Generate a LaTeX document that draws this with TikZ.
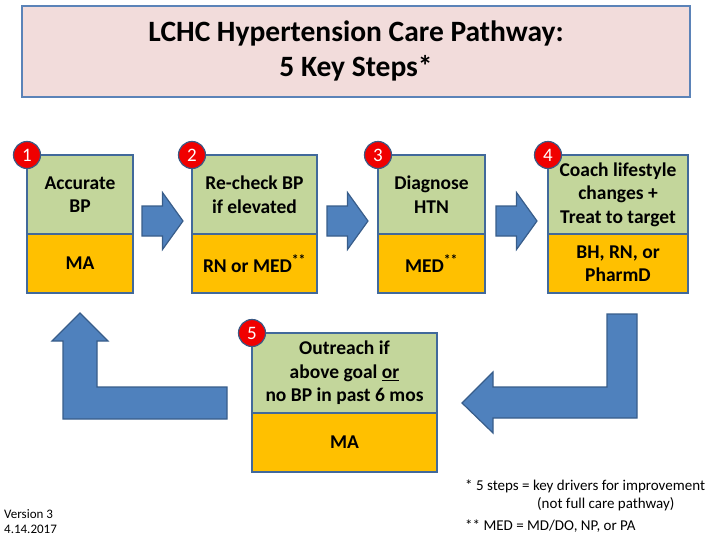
\documentclass[tikz,border=0pt]{standalone}
\usepackage{fontspec}
\setmainfont{Carlito}
\usetikzlibrary{positioning,calc}
\definecolor{titlepink}{HTML}{F2DCDB}
\definecolor{titleline}{HTML}{5B83B8}
\definecolor{boxline}{HTML}{41699B}
\definecolor{stepgreen}{HTML}{C3D69B}
\definecolor{steporange}{HTML}{FFC000}
\definecolor{arrowblue}{HTML}{4F81BD}
\definecolor{arrowline}{HTML}{385D8A}
\definecolor{badgered}{HTML}{F00000}
\definecolor{badgeline}{HTML}{3B5A85}
\tikzset{
rarrow/.pic={\draw[blockarrow] (-20.5,-15) -- (0,-15) -- (0,-28.5) -- (20.5,0)
  -- (0,28.5) -- (0,15) -- (-20.5,15) -- cycle;}
}
\begin{document}
\begin{tikzpicture}[
x=1pt,
y=-1pt,
every node/.style={font=\fontsize{19.5}{23.5}\selectfont\bfseries},
topbox/.style={draw=boxline,line width=1.5pt,fill=stepgreen,anchor=north west,
  minimum height=79pt,align=center,inner sep=2pt,outer sep=0pt},
lowbox/.style={draw=boxline,line width=1.5pt,fill=steporange,anchor=north,
  minimum height=59pt,align=center,inner sep=2pt,outer sep=0pt},
badge/.style={circle,draw=badgeline,line width=1.2pt,fill=badgered,text=white,
  minimum size=27pt,inner sep=0pt,font=\fontsize{19}{19}\selectfont},
blockarrow/.style={draw=arrowline,line width=1.2pt,fill=arrowblue},
note/.style={anchor=west,inner sep=0pt,font=\fontsize{15}{18}\selectfont}
]
\useasboundingbox (0,0) rectangle (713,541);

% title
\node[draw=titleline,line width=2pt,fill=titlepink,minimum width=668pt,
  minimum height=91pt,align=center,font=\fontsize{29.5}{35}\selectfont\bfseries]
  (title) at (356,51) {LCHC Hypertension Care Pathway:\\5 Key Steps*};

% steps 1-4
\node[topbox,minimum width=106pt] (g1) at (27,155) {Accurate\\BP};
\node[lowbox,minimum width=106pt] (o1) at (g1.south) {MA};
\node[topbox,minimum width=125pt] (g2) at (192,155) {Re-check BP\\if elevated};
\node[lowbox,minimum width=125pt] (o2) at (g2.south) {RN or MED\textsuperscript{**}};
\node[topbox,minimum width=107pt] (g3) at (378,155) {Diagnose\\HTN};
\node[lowbox,minimum width=107pt] (o3) at (g3.south) {MED\textsuperscript{**}};
\node[topbox,minimum width=140pt] (g4) at (548,155) {Coach lifestyle\\changes +\\Treat to target};
\node[lowbox,minimum width=140pt] (o4) at (g4.south) {BH, RN, or\\PharmD};

% step 5
\node[topbox,minimum width=185pt,minimum height=80pt] (g5) at (252,333)
  {Outreach if\\above goal \underline{or}\\no BP in past 6 mos};
\node[lowbox,minimum width=185pt] (o5) at (g5.south) {MA};

% numbers
\node[badge] (n1) at (g1.north west) {1};
\node[badge] (n2) at (g2.north west) {2};
\node[badge] (n3) at (g3.north west) {3};
\node[badge] (n4) at (g4.north west) {4};
\node[badge] (n5) at (g5.north west) {5};

% arrows between steps
\coordinate (r12) at ($(g1.south east)!0.5!(g2.south west)+(0,-13)$);
\coordinate (r23) at ($(g2.south east)!0.5!(g3.south west)+(0,-13)$);
\coordinate (r34) at ($(g3.south east)!0.5!(g4.south west)+(0,-13)$);
\pic at (r12) {rarrow};
\pic at (r23) {rarrow};
\pic at (r34) {rarrow};

% 4 -> 5 and 5 -> 1
\draw[blockarrow] (607,314) -- (637,314) -- (637,418) -- (493,418) -- (493,433)
  -- (462,403) -- (493,372) -- (493,387) -- (607,387) -- cycle;
\draw[blockarrow] (227,387) -- (97,387) -- (97,341) -- (108,341) -- (80,313)
  -- (52,341) -- (63,341) -- (63,419) -- (227,419) -- cycle;

% notes
\node[note] (s1) at (465,486) {* 5 steps = key drivers for improvement};
\node[note] (s2) at (537,504) {(not full care pathway)};
\node[note] (s3) at (465,526) {** MED = MD/DO, NP, or PA};
\node[anchor=north west,inner sep=0pt,align=left,
  font=\fontsize{13}{15.5}\selectfont] (ver) at (4,509) {Version 3\\4.14.2017};
\end{tikzpicture}
\end{document}
